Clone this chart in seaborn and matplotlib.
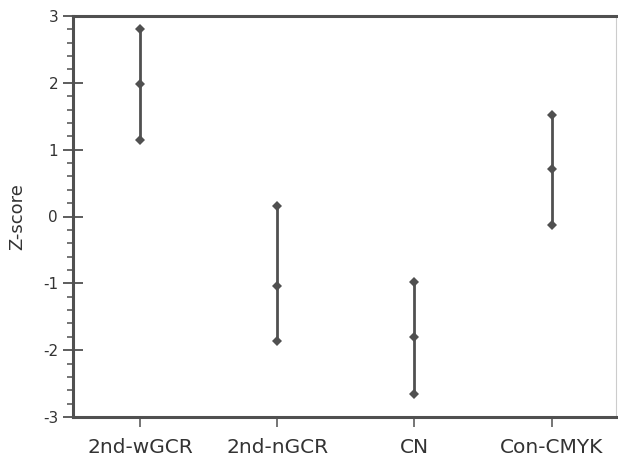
import matplotlib
matplotlib.use("Agg")
import matplotlib.pyplot as plt
from matplotlib.ticker import MultipleLocator
import seaborn as sns
import pandas as pd

categories = ["2nd-wGCR", "2nd-nGCR", "CN", "Con-CMYK"]
upper = [2.81, 0.15, -0.98, 1.52]
middle = [1.99, -1.04, -1.81, 0.71]
lower = [1.15, -1.86, -2.65, -0.13]

rows = []
for c, u, m, l in zip(categories, upper, middle, lower):
    for v in (u, m, l):
        rows.append({"cat": c, "z": v})
df = pd.DataFrame(rows)

sns.set_style("white")
plt.rcParams["font.family"] = ["DejaVu Sans"]

fig = plt.figure(figsize=(6.18, 4.59), dpi=100)
ax = fig.add_axes([72.7 / 618, 1 - 417 / 459, (616 - 72.7) / 618, (417 - 16) / 459])

col = "#505050"
sns.lineplot(data=df, x="cat", y="z", units="cat", estimator=None, sort=True,
             color=col, lw=2.0, marker="D", markersize=5.5, markeredgewidth=0,
             ax=ax)

ax.set_ylim(-3, 3)
ax.set_xlim(-0.49, 3.47)
ax.yaxis.set_major_locator(MultipleLocator(1))
ax.yaxis.set_minor_locator(MultipleLocator(0.2))
ax.set_yticklabels([str(int(t)) if t >= 0 else "-" + str(int(abs(t))) for t in ax.get_yticks()])
ax.tick_params(axis="y", which="major", direction="inout", length=15, width=1.3,
               color=col, labelsize=11, labelcolor="#333333", pad=3, left=True)
ax.tick_params(axis="y", which="minor", direction="out", length=4.5, width=1.1,
               color=col, left=True)
ax.tick_params(axis="x", which="major", direction="out", length=7, width=1.1,
               color=col, labelsize=14.5, labelcolor="#333333", pad=8, bottom=True)

ax.set_xlabel("")
ax.set_ylabel("Z-score", fontsize=13, color="#333333", labelpad=12)

for s in ("left", "bottom", "top"):
    ax.spines[s].set_color(col)
    ax.spines[s].set_linewidth(2.2)
ax.spines["right"].set_color("#cccccc")
ax.spines["right"].set_linewidth(0.8)

fig.savefig("out.png", dpi=100)
